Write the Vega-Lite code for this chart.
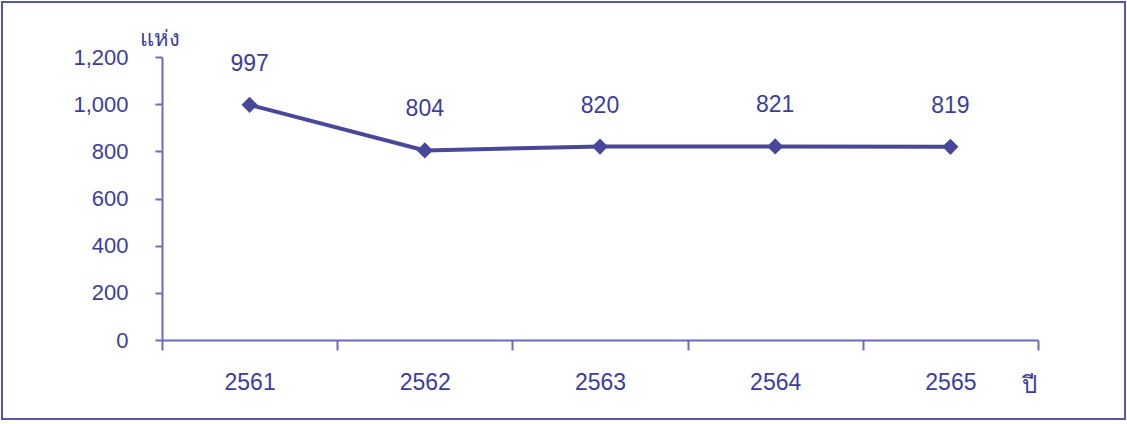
{
  "$schema": "https://vega.github.io/schema/vega-lite/v6.json",
  "width": 1123,
  "height": 417,
  "autosize": {"type": "none"},
  "padding": {"left": 2, "top": 2, "right": 2, "bottom": 5},
  "background": "white",
  "config": {
    "view": {"stroke": "#5656ab", "strokeWidth": 2},
    "font": "Liberation Sans"
  },
  "data": {
    "values": [
      {"year": "2561", "count": 997},
      {"year": "2562", "count": 804},
      {"year": "2563", "count": 820},
      {"year": "2564", "count": 821},
      {"year": "2565", "count": 819}
    ]
  },
  "encoding": {
    "x": {
      "field": "year",
      "type": "ordinal",
      "scale": {"type": "band", "range": [160, 1036], "paddingInner": 0, "paddingOuter": 0},
      "axis": {
        "offset": -79,
        "tickBand": "extent",
        "tickSize": 10,
        "tickWidth": 2,
        "domainWidth": 2,
        "domainColor": "#6b6bbb",
        "tickColor": "#6b6bbb",
        "labelAngle": 0,
        "labelPadding": 21,
        "labelFont": "Liberation Sans",
        "labelFontSize": 23,
        "labelColor": "#3d3d99",
        "title": "ปี",
        "titleX": 1027,
        "titleY": 52,
        "titleAlign": "center",
        "titleBaseline": "alphabetic",
        "titleFontSize": 24,
        "titleFontWeight": "normal",
        "titleColor": "#3d3d99"
      }
    },
    "y": {
      "field": "count",
      "type": "quantitative",
      "scale": {"domain": [0, 1200], "range": [338, 55], "nice": false, "zero": true},
      "axis": {
        "offset": -160,
        "values": [0, 200, 400, 600, 800, 1000, 1200],
        "format": ",d",
        "grid": false,
        "tickSize": 7,
        "tickWidth": 2,
        "domainWidth": 2,
        "domainColor": "#6b6bbb",
        "tickColor": "#6b6bbb",
        "labelPadding": 27,
        "labelFont": "Liberation Sans",
        "labelFontSize": 22,
        "labelColor": "#3d3d99",
        "title": "แห่ง",
        "titleAngle": 0,
        "titleX": -3,
        "titleY": 43,
        "titleAlign": "center",
        "titleBaseline": "alphabetic",
        "titleFontSize": 22,
        "titleFontWeight": "normal",
        "titleColor": "#3d3d99"
      }
    }
  },
  "layer": [
    {"mark": {"type": "line", "color": "#47479b", "strokeWidth": 4}},
    {"mark": {"type": "point", "shape": "diamond", "filled": true, "size": 260, "color": "#47479b", "opacity": 1}},
    {
      "mark": {"type": "text", "dy": -34, "baseline": "alphabetic", "font": "Liberation Sans", "fontSize": 23, "color": "#3d3d99"},
      "encoding": {"text": {"field": "count", "type": "quantitative", "format": "d"}}
    }
  ]
}
